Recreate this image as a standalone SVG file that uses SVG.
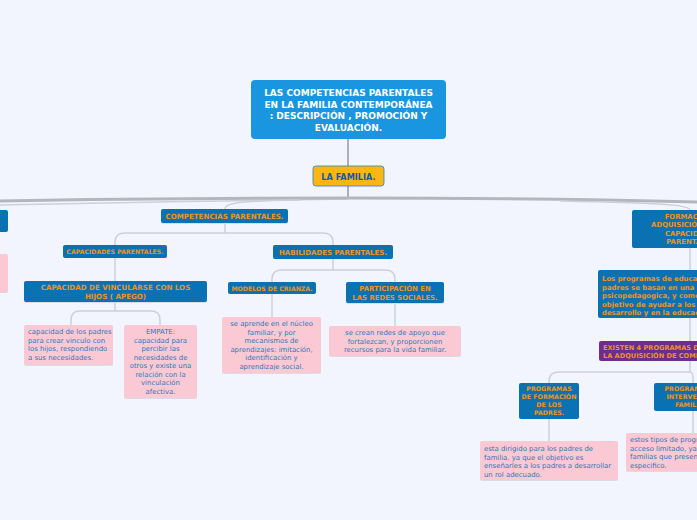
<svg xmlns="http://www.w3.org/2000/svg" width="697" height="520" viewBox="0 0 697 520">
<style>
text{font-family:"DejaVu Sans","Verdana",sans-serif}
.b{fill:#0a72b2}
.pk{fill:#fbc9d4}
.sh{fill:#d9dce6}
.ot{fill:#f0921c;font-weight:bold}
.pt{fill:#2f76b6;font-size:6.9px}
.c{stroke:#cdd0da;stroke-width:1.5;fill:none}
.m{stroke:#b4b6bd;stroke-width:3;fill:none}
.t{stroke:#b0b0b4;stroke-width:2;fill:none}
</style>
<rect width="697" height="520" fill="#f2f5fe"/>
<g id="connectors">
<path class="t" d="M348,139 V166"/>
<path class="t" d="M348,186 V198"/>
<path class="c" d="M0,205 C100,203 250,200 348,199"/>
<path class="m" d="M0,201 C100,199 250,198 348,198"/>
<path class="m" d="M348,198 C500,198 620,200 697,202"/>
<path class="c" d="M300,200 C245,201 225,202 225,209"/>
<path class="c" d="M560,201 C650,203 690,204 690,210"/>
<path class="c" d="M225,223 V233 M225,233 H125 Q115,233 115,242 V245 M225,233 H323 Q333,233 333,242 V245"/>
<path class="c" d="M115,258 V281"/>
<path class="c" d="M115,302 V311 M115,311 H80 Q71,311 71,320 V325 M115,311 H151 Q160,311 160,320 V325"/>
<path class="c" d="M333,259 V270 M333,270 H282 Q272,270 272,279 V282 M333,270 H385 Q395,270 395,279 V282"/>
<path class="c" d="M272,294 V317"/>
<path class="c" d="M395,303 V326"/>
<path class="c" d="M690,248 V270"/>
<path class="c" d="M690,318 V341"/>
<path class="c" d="M690,361 V372 M690,372 H559 Q549,372 549,381 V383 M690,372 Q693,372 693,378 V383"/>
<path class="c" d="M549,419 V441"/>
<path class="c" d="M693,411 V433"/>
</g>
<g id="title">
<rect x="251" y="80" width="195" height="59" rx="4" fill="#1a95e0"/>
<text x="348.5" y="96" font-size="9" font-weight="bold" fill="#fff" text-anchor="middle">LAS COMPETENCIAS PARENTALES</text>
<text x="348.5" y="107.5" font-size="9" font-weight="bold" fill="#fff" text-anchor="middle">EN LA FAMILIA CONTEMPORÁNEA</text>
<text x="348.5" y="119" font-size="9" font-weight="bold" fill="#fff" text-anchor="middle">: DESCRIPCIÓN , PROMOCIÓN Y</text>
<text x="348.5" y="130.5" font-size="9" font-weight="bold" fill="#fff" text-anchor="middle">EVALUACIÓN.</text>
</g>
<g id="familia">
<rect x="313" y="166" width="71" height="20" rx="3" fill="#fbb615" stroke="#2a80c0" stroke-width="0.8"/>
<text x="348.5" y="179.5" font-size="8.2" font-weight="bold" fill="#1a5a9c" text-anchor="middle">LA FAMILIA.</text>
</g>
<g id="left-node">
<rect x="-10" y="210" width="18" height="22" rx="2" class="b"/>
</g>
<g id="left-pink">
<rect x="-10" y="254" width="18" height="39" rx="2" class="pk"/>
</g>
<g id="competencias">
<rect x="161" y="210" width="127" height="14" class="sh" rx="2"/>
<rect x="161" y="209" width="127" height="14" rx="2" class="b"/>
<text x="224.5" y="218.8" font-size="7.1" class="ot" text-anchor="middle">COMPETENCIAS PARENTALES.</text>
</g>
<g id="capacidades">
<rect x="63" y="245" width="104" height="13" rx="2" class="b"/>
<text x="115" y="254" font-size="6.2" class="ot" text-anchor="middle">CAPACIDADES PARENTALES.</text>
</g>
<g id="vincularse">
<rect x="24" y="282" width="183" height="21" class="sh" rx="2"/>
<rect x="24" y="281" width="183" height="21" rx="2" class="b"/>
<text x="115.5" y="289.5" font-size="7.1" class="ot" text-anchor="middle">CAPACIDAD DE VINCULARSE CON LOS</text>
<text x="115.5" y="298.5" font-size="7.1" class="ot" text-anchor="middle">HIJOS ( APEGO)</text>
</g>
<g id="pink-vinculo">
<rect x="24" y="326" width="89" height="40" class="sh" rx="2"/>
<rect x="24" y="325" width="89" height="40" rx="2" class="pk"/>
<text x="28" y="334" class="pt">capacidad de los padres</text>
<text x="28" y="342.5" class="pt">para crear vinculo con</text>
<text x="28" y="351" class="pt">los hijos, respondiendo</text>
<text x="28" y="359.5" class="pt">a sus necesidades.</text>
</g>
<g id="pink-empate">
<rect x="124" y="326" width="73" height="73" class="sh" rx="2"/>
<rect x="124" y="325" width="73" height="73" rx="2" class="pk"/>
<g class="pt" text-anchor="middle">
<text x="160.5" y="334">EMPATE:</text>
<text x="160.5" y="342.5">capacidad para</text>
<text x="160.5" y="351">percibir las</text>
<text x="160.5" y="359.5">necesidades de</text>
<text x="160.5" y="368">otros y existe una</text>
<text x="160.5" y="376.5">relación con la</text>
<text x="160.5" y="385">vinculación</text>
<text x="160.5" y="393.5">afectiva.</text>
</g>
</g>
<g id="habilidades">
<rect x="273" y="245" width="120" height="14" rx="2" class="b"/>
<text x="333" y="254.5" font-size="7" class="ot" text-anchor="middle">HABILIDADES PARENTALES.</text>
</g>
<g id="modelos">
<rect x="228" y="282" width="88" height="12" rx="2" class="b"/>
<text x="272" y="290.5" font-size="6.2" class="ot" text-anchor="middle">MODELOS DE CRIANZA.</text>
</g>
<g id="participacion">
<rect x="346" y="283" width="98" height="21" class="sh" rx="2"/>
<rect x="346" y="282" width="98" height="21" rx="2" class="b"/>
<text x="395" y="290.5" font-size="6.9" class="ot" text-anchor="middle">PARTICIPACIÓN EN</text>
<text x="395" y="299.5" font-size="6.9" class="ot" text-anchor="middle">LAS REDES SOCIALES.</text>
</g>
<g id="pink-modelos">
<rect x="222" y="318" width="99" height="56" class="sh" rx="2"/>
<rect x="222" y="317" width="99" height="56" rx="2" class="pk"/>
<g class="pt" text-anchor="middle">
<text x="271.5" y="326">se aprende en el núcleo</text>
<text x="271.5" y="334.5">familiar, y por</text>
<text x="271.5" y="343">mecanismos de</text>
<text x="271.5" y="351.5">aprendizajes: imitación,</text>
<text x="271.5" y="360">identificación  y</text>
<text x="271.5" y="368.5">aprendizaje social.</text>
</g>
</g>
<g id="pink-redes">
<rect x="329" y="327" width="132" height="30" class="sh" rx="2"/>
<rect x="329" y="326" width="132" height="30" rx="2" class="pk"/>
<g class="pt" text-anchor="middle">
<text x="395" y="335">se crean redes de apoyo que</text>
<text x="395" y="343.5">fortalezcan, y proporcionen</text>
<text x="395" y="352">recursos para  la vida familiar.</text>
</g>
</g>
<g id="formacion">
<rect x="632" y="210" width="120" height="38" rx="2" class="b"/>
<g font-size="6.9" class="ot" text-anchor="middle">
<text x="692" y="218.5">FORMACIÓN Y</text>
<text x="692" y="227">ADQUISICIÓN DE LAS</text>
<text x="692" y="235.5">CAPACIDADES</text>
<text x="692" y="244">PARENTALES.</text>
</g>
</g>
<g id="los-programas">
<rect x="598" y="270" width="150" height="48" rx="2" class="b"/>
<g font-size="6.9" class="ot">
<text x="602" y="281">Los programas de educación de</text>
<text x="602" y="289.5">padres se basan en una visión</text>
<text x="602" y="298">psicopedagogica, y como</text>
<text x="602" y="306.5">objetivo de ayudar a los padres en el</text>
<text x="602" y="315">desarrollo y en la educación</text>
</g>
</g>
<g id="existen">
<rect x="599" y="341" width="150" height="20" rx="2" fill="#6b2e8e"/>
<g font-size="6.6" class="ot">
<text x="603" y="349.5">EXISTEN 4 PROGRAMAS DE APOYO</text>
<text x="603" y="358">LA ADQUISICIÓN DE COMPETENCIAS</text>
</g>
</g>
<g id="prog-formacion">
<rect x="519" y="383" width="60" height="36" rx="2" class="b"/>
<g font-size="6.3" class="ot" text-anchor="middle">
<text x="549" y="391">PROGRAMAS</text>
<text x="549" y="399">DE FORMACIÓN</text>
<text x="549" y="407">DE LOS</text>
<text x="549" y="415">PADRES.</text>
</g>
</g>
<g id="pink-formacion">
<rect x="480" y="442" width="138" height="39" class="sh" rx="2"/>
<rect x="480" y="441" width="138" height="39" rx="2" class="pk"/>
<g class="pt">
<text x="484" y="451">esta dirigido para los padres de</text>
<text x="484" y="459.5">familia. ya que el objetivo es</text>
<text x="484" y="468">enseñarles a los padres a desarrollar</text>
<text x="484" y="476.5">un rol adecuado.</text>
</g>
</g>
<g id="prog-intervencion">
<rect x="654" y="383" width="78" height="28" rx="2" class="b"/>
<g font-size="6.3" class="ot" text-anchor="middle">
<text x="693" y="391">PROGRAMAS DE</text>
<text x="693" y="399">INTERVENCIÓN</text>
<text x="693" y="407">FAMILIAR.</text>
</g>
</g>
<g id="pink-intervencion">
<rect x="626" y="434" width="130" height="38" class="sh" rx="2"/>
<rect x="626" y="433" width="130" height="38" rx="2" class="pk"/>
<g class="pt">
<text x="630" y="442">estos tipos de programas son de</text>
<text x="630" y="450.5">acceso limitado, ya que son para</text>
<text x="630" y="459">familias que presentan un problema</text>
<text x="630" y="467.5">especifico.</text>
</g>
</g>
</svg>
